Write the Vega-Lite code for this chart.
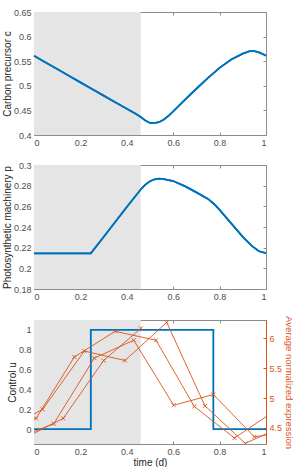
{
  "$schema": "https://vega.github.io/schema/vega-lite/v6.json",
  "padding": {"left": 2, "top": 8, "right": 0, "bottom": 0},
  "spacing": 14,
  "config": {
    "font": "Liberation Sans",
    "view": {"stroke": null},
    "axis": {
      "labelFontSize": 9,
      "titleFontSize": 10,
      "titleFontWeight": "normal",
      "labelColor": "#4d4d4d",
      "titleColor": "#262626",
      "domainColor": "#8c8c8c",
      "tickColor": "#8c8c8c",
      "tickSize": -3,
      "labelPadding": 6,
      "titlePadding": 3,
      "grid": false,
      "zindex": 1
    },
    "axisLeft": {"titlePadding": 1}
  },
  "datasets": {
    "shade": [{"start": 0, "end": 0.46}],
    "carbon": [
      {"t": 0, "c": 0.561}, {"t": 0.05, "c": 0.5475}, {"t": 0.1, "c": 0.534}, {"t": 0.15, "c": 0.5205},
      {"t": 0.2, "c": 0.507}, {"t": 0.25, "c": 0.4935}, {"t": 0.3, "c": 0.48}, {"t": 0.35, "c": 0.4665},
      {"t": 0.4, "c": 0.4535}, {"t": 0.44, "c": 0.4425}, {"t": 0.46, "c": 0.4365}, {"t": 0.48, "c": 0.4295},
      {"t": 0.5, "c": 0.4245}, {"t": 0.52, "c": 0.424}, {"t": 0.54, "c": 0.4265}, {"t": 0.56, "c": 0.4315},
      {"t": 0.58, "c": 0.439}, {"t": 0.6, "c": 0.448}, {"t": 0.65, "c": 0.4715}, {"t": 0.7, "c": 0.494},
      {"t": 0.75, "c": 0.516}, {"t": 0.8, "c": 0.5365}, {"t": 0.85, "c": 0.5535}, {"t": 0.9, "c": 0.5655},
      {"t": 0.93, "c": 0.5705}, {"t": 0.95, "c": 0.5705}, {"t": 0.97, "c": 0.568}, {"t": 0.99, "c": 0.5635},
      {"t": 1.0, "c": 0.561}
    ],
    "machinery": [
      {"t": 0, "p": 0.2145}, {"t": 0.245, "p": 0.2145}, {"t": 0.3, "p": 0.2303}, {"t": 0.35, "p": 0.2448},
      {"t": 0.4, "p": 0.2593}, {"t": 0.46, "p": 0.2763}, {"t": 0.48, "p": 0.281}, {"t": 0.5, "p": 0.2843},
      {"t": 0.52, "p": 0.2862}, {"t": 0.54, "p": 0.2868}, {"t": 0.56, "p": 0.2864}, {"t": 0.6, "p": 0.2845},
      {"t": 0.65, "p": 0.2795}, {"t": 0.7, "p": 0.2735}, {"t": 0.75, "p": 0.2672}, {"t": 0.775, "p": 0.2625},
      {"t": 0.8, "p": 0.2565}, {"t": 0.85, "p": 0.2435}, {"t": 0.9, "p": 0.2305}, {"t": 0.94, "p": 0.2215},
      {"t": 0.97, "p": 0.2165}, {"t": 1.0, "p": 0.2148}
    ],
    "control": [
      {"t": 0, "u": 0}, {"t": 0.245, "u": 1}, {"t": 0.773, "u": 0}, {"t": 1.0, "u": 0}
    ],
    "expression": [
      {"s": "a", "t": -0.165, "e": 4.5}, {"s": "a", "t": 0.009, "e": 4.66}, {"s": "a", "t": 0.174, "e": 5.69},
      {"s": "a", "t": 0.35, "e": 6.12}, {"s": "a", "t": 0.526, "e": 5.97}, {"s": "a", "t": 0.691, "e": 4.86},
      {"s": "a", "t": 0.864, "e": 4.33}, {"s": "a", "t": 1.035, "e": 4.78},
      {"s": "b", "t": -0.14, "e": 4.45}, {"s": "b", "t": 0.037, "e": 4.81}, {"s": "b", "t": 0.217, "e": 5.79},
      {"s": "b", "t": 0.392, "e": 5.63}, {"s": "b", "t": 0.572, "e": 6.27}, {"s": "b", "t": 0.737, "e": 4.87},
      {"s": "b", "t": 0.911, "e": 4.24}, {"s": "b", "t": 1.085, "e": 4.55},
      {"s": "c", "t": -0.09, "e": 4.3}, {"s": "c", "t": 0.085, "e": 4.57}, {"s": "c", "t": 0.26, "e": 5.67},
      {"s": "c", "t": 0.43, "e": 5.97}, {"s": "c", "t": 0.602, "e": 4.88}, {"s": "c", "t": 0.773, "e": 5.06},
      {"s": "c", "t": 0.95, "e": 4.35}, {"s": "c", "t": 1.12, "e": 4.45},
      {"s": "d", "t": -0.05, "e": 4.31}, {"s": "d", "t": 0.126, "e": 4.66}, {"s": "d", "t": 0.3, "e": 5.63},
      {"s": "d", "t": 0.461, "e": 6.17}
    ]
  },
  "vconcat": [
    {
      "width": 232,
      "height": 123,
      "layer": [
        {
          "data": {"name": "shade"},
          "mark": {"type": "rect", "color": "#e5e5e5"},
          "encoding": {
            "x": {"field": "start", "type": "quantitative", "scale": {"domain": [0, 1], "nice": false},
                  "axis": {"orient": "top", "labels": false, "title": null, "values": [0, 0.2, 0.4, 0.6, 0.8, 1]}},
            "x2": {"field": "end"}
          }
        },
        {
          "data": {"name": "carbon"},
          "mark": {"type": "line", "color": "#0072BD", "strokeWidth": 1.8},
          "encoding": {
            "x": {"field": "t", "type": "quantitative",
                  "axis": {"orient": "bottom", "title": null, "format": "~g", "values": [0, 0.2, 0.4, 0.6, 0.8, 1]}},
            "y": {"field": "c", "type": "quantitative", "scale": {"domain": [0.4, 0.65], "nice": false},
                  "axis": {"orient": "left", "title": "Carbon precursor c", "format": "~g",
                           "values": [0.4, 0.45, 0.5, 0.55, 0.6, 0.65]}}
          }
        },
        {
          "data": {"name": "carbon"},
          "mark": {"type": "line", "color": "#0072BD", "strokeWidth": 1.8},
          "encoding": {
            "x": {"field": "t", "type": "quantitative", "axis": null},
            "y": {"field": "c", "type": "quantitative",
                  "axis": {"orient": "right", "labels": false, "title": null,
                           "values": [0.4, 0.45, 0.5, 0.55, 0.6, 0.65]}}
          }
        }
      ]
    },
    {
      "width": 232,
      "height": 124,
      "layer": [
        {
          "data": {"name": "shade"},
          "mark": {"type": "rect", "color": "#e5e5e5"},
          "encoding": {
            "x": {"field": "start", "type": "quantitative", "scale": {"domain": [0, 1], "nice": false},
                  "axis": {"orient": "top", "labels": false, "title": null, "values": [0, 0.2, 0.4, 0.6, 0.8, 1]}},
            "x2": {"field": "end"}
          }
        },
        {
          "data": {"name": "machinery"},
          "mark": {"type": "line", "color": "#0072BD", "strokeWidth": 1.8},
          "encoding": {
            "x": {"field": "t", "type": "quantitative",
                  "axis": {"orient": "bottom", "title": null, "format": "~g", "values": [0, 0.2, 0.4, 0.6, 0.8, 1]}},
            "y": {"field": "p", "type": "quantitative", "scale": {"domain": [0.18, 0.3], "nice": false},
                  "axis": {"orient": "left", "title": "Photosynthetic machinery p", "format": "~g",
                           "values": [0.18, 0.2, 0.22, 0.24, 0.26, 0.28, 0.3]}}
          }
        },
        {
          "data": {"name": "machinery"},
          "mark": {"type": "line", "color": "#0072BD", "strokeWidth": 1.8},
          "encoding": {
            "x": {"field": "t", "type": "quantitative", "axis": null},
            "y": {"field": "p", "type": "quantitative",
                  "axis": {"orient": "right", "labels": false, "title": null,
                           "values": [0.18, 0.2, 0.22, 0.24, 0.26, 0.28, 0.3]}}
          }
        }
      ]
    },
    {
      "width": 232,
      "height": 124,
      "resolve": {"scale": {"y": "independent"}},
      "layer": [
        {
          "data": {"name": "shade"},
          "mark": {"type": "rect", "color": "#e5e5e5"},
          "encoding": {
            "x": {"field": "start", "type": "quantitative", "scale": {"domain": [0, 1], "nice": false},
                  "axis": {"orient": "top", "labels": false, "title": null, "values": [0, 0.2, 0.4, 0.6, 0.8, 1]}},
            "x2": {"field": "end"}
          }
        },
        {
          "data": {"name": "control"},
          "mark": {"type": "line", "color": "#0072BD", "strokeWidth": 1.8, "interpolate": "step-after"},
          "encoding": {
            "x": {"field": "t", "type": "quantitative",
                  "axis": {"orient": "bottom", "title": "time (d)", "titlePadding": 1, "format": "~g",
                           "values": [0, 0.2, 0.4, 0.6, 0.8, 1]}},
            "y": {"field": "u", "type": "quantitative", "scale": {"domain": [-0.15, 1.1], "nice": false},
                  "axis": {"orient": "left", "title": "Control u", "format": "~g",
                           "values": [0, 0.2, 0.4, 0.6, 0.8, 1]}}
          }
        },
        {
          "data": {"name": "expression"},
          "mark": {
            "type": "line", "color": "#D95319", "strokeWidth": 0.9, "clip": true,
            "point": {"shape": "M-1,-1L1,1M1,-1L-1,1", "filled": false, "size": 16,
                      "stroke": "#D95319", "strokeWidth": 0.9, "clip": true}
          },
          "encoding": {
            "x": {"field": "t", "type": "quantitative", "axis": null},
            "y": {"field": "e", "type": "quantitative", "scale": {"domain": [4.23, 6.31], "nice": false},
                  "axis": {"orient": "right", "title": "Average normalized expression", "format": "~g",
                           "titleFontSize": 9.5, "titlePadding": 2,
                           "values": [4.5, 5, 5.5, 6], "domainColor": "#D95319", "tickColor": "#D95319",
                           "labelColor": "#D95319", "titleColor": "#D95319"}},
            "detail": {"field": "s"}
          }
        }
      ]
    }
  ]
}
